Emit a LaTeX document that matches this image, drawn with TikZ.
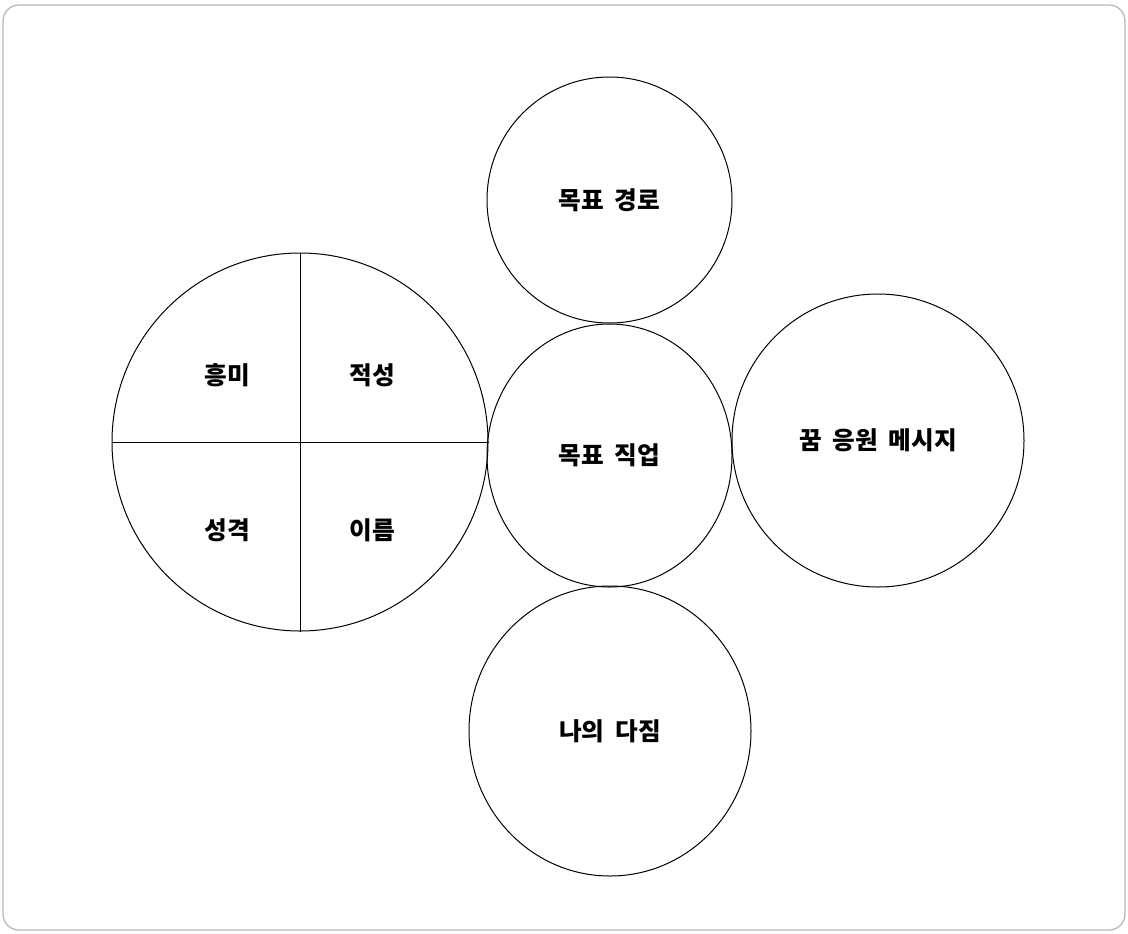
\documentclass[tikz,border=0pt]{standalone}
\usepackage{fontspec}
\setmainfont{Noto Sans CJK KR}[WordSpace=1.9]
\usepackage{tikz}
\usetikzlibrary{positioning,shapes.geometric}

\begin{document}
\begin{tikzpicture}[x=0.75pt, y=-0.75pt,
  bubble/.style={ellipse, draw, line width=0.75pt, inner sep=0pt,
    font=\bfseries\fontsize{18.5}{22}\selectfont},
  quadtext/.style={inner sep=0pt, font=\bfseries\fontsize{18.5}{22}\selectfont},
  frame/.style={draw=black!27, line width=1pt, rounded corners=12pt}]
\useasboundingbox (0,0) rectangle (1128,933);
% outer frame
\draw[frame] (3,5) rectangle (1125,930);
% left: the four quarters
\node[bubble, minimum width=282pt, minimum height=283.5pt] (self) at (300,442) {};
\draw[line width=0.75pt] (self.north) -- (self.south);
\draw[line width=0.75pt] (self.west) -- (self.east);
\node[quadtext] (interest) at (227,375) {흥미};
\node[quadtext] (aptitude) at (372,375) {적성};
\node[quadtext] (character) at (227,530) {성격};
\node[quadtext] (name) at (372,530) {이름};
% middle column
\node[bubble, minimum width=183.75pt, minimum height=184.5pt] (path) at (609.5,200) {목표 경로};
\node[bubble, minimum width=183.75pt, minimum height=197.25pt] (job) at (609.5,455.5) {목표 직업};
\node[bubble, minimum width=211.5pt, minimum height=217.5pt] (pledge) at (610,731) {나의 다짐};
% right
\node[bubble, minimum width=219pt, minimum height=219.75pt] (cheer) at (878,440.5) {꿈 응원 메시지};
\end{tikzpicture}
\end{document}
